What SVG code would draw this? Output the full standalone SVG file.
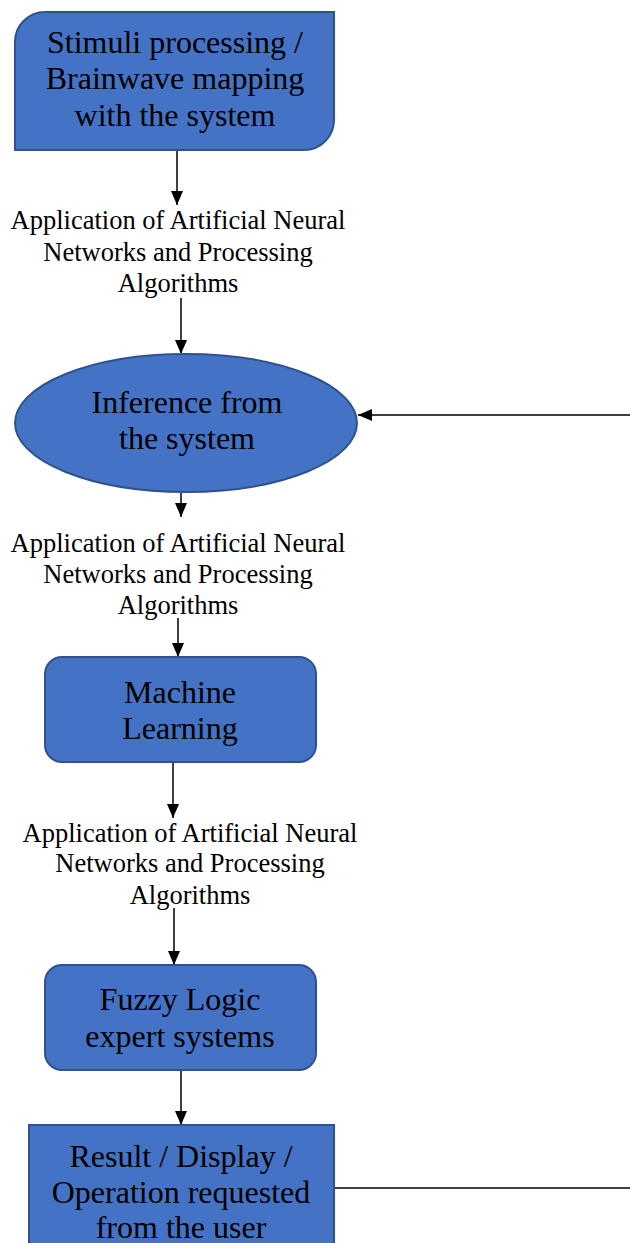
<svg xmlns="http://www.w3.org/2000/svg" width="630" height="1243" viewBox="0 0 630 1243">
<style>
.n{fill:#4472C4;stroke:#2F528F;stroke-width:2}
.t{font-family:"Liberation Serif","Times New Roman",serif;font-size:32px;fill:#000;text-anchor:middle}
.l{font-family:"Liberation Serif","Times New Roman",serif;font-size:26.5px;fill:#000;text-anchor:middle}
.c{stroke:#000;stroke-width:1.5;fill:none}
</style>
<defs>
<marker id="ah" viewBox="0 0 14 12" refX="14" refY="6" markerWidth="14" markerHeight="12" markerUnits="userSpaceOnUse" orient="auto">
<path d="M0,0L14,6L0,12z" fill="#000"/>
</marker>
</defs>
<rect width="630" height="1243" fill="#fff"/>
<g id="connectors">
<line class="c" x1="177" y1="150" x2="177" y2="205" marker-end="url(#ah)"/>
<line class="c" x1="181" y1="298" x2="181" y2="354" marker-end="url(#ah)"/>
<line class="c" x1="630" y1="415" x2="358" y2="415" marker-end="url(#ah)"/>
<line class="c" x1="181" y1="493" x2="181" y2="517" marker-end="url(#ah)"/>
<line class="c" x1="178" y1="618" x2="178" y2="657" marker-end="url(#ah)"/>
<line class="c" x1="173" y1="762" x2="173" y2="818" marker-end="url(#ah)"/>
<line class="c" x1="174" y1="908" x2="174" y2="965" marker-end="url(#ah)"/>
<line class="c" x1="181" y1="1070" x2="181" y2="1125" marker-end="url(#ah)"/>
<line class="c" x1="334" y1="1188" x2="630" y2="1188"/>
<text class="l" x="178" y="229">Application of Artificial Neural</text>
<text class="l" x="178" y="261">Networks and Processing</text>
<text class="l" x="178" y="292">Algorithms</text>
<text class="l" x="178" y="552">Application of Artificial Neural</text>
<text class="l" x="178" y="583">Networks and Processing</text>
<text class="l" x="178" y="614">Algorithms</text>
<text class="l" x="190" y="842">Application of Artificial Neural</text>
<text class="l" x="190" y="872">Networks and Processing</text>
<text class="l" x="190" y="904">Algorithms</text>
</g>
<g id="stimuli">
<path class="n" d="M45,12H334V120A30,30 0 0 1 304,150H15V42A30,30 0 0 1 45,12Z"/>
<text class="t" x="175" y="53">Stimuli processing /</text>
<text class="t" x="175" y="89">Brainwave mapping</text>
<text class="t" x="175" y="126">with the system</text>
</g>
<g id="inference">
<ellipse class="n" cx="186" cy="423" rx="171" ry="69"/>
<text class="t" x="187" y="413">Inference from</text>
<text class="t" x="187" y="449">the system</text>
</g>
<g id="ml">
<rect class="n" x="45" y="657" width="271" height="105" rx="17"/>
<text class="t" x="180" y="703">Machine</text>
<text class="t" x="180" y="739">Learning</text>
</g>
<g id="fuzzy">
<rect class="n" x="45" y="965" width="271" height="105" rx="17"/>
<text class="t" x="180" y="1010">Fuzzy Logic</text>
<text class="t" x="180" y="1047">expert systems</text>
</g>
<g id="result">
<rect class="n" x="29" y="1125" width="305" height="130"/>
<text class="t" x="181" y="1167">Result / Display /</text>
<text class="t" x="181" y="1203">Operation requested</text>
<text class="t" x="181" y="1238">from the user</text>
</g>
</svg>
